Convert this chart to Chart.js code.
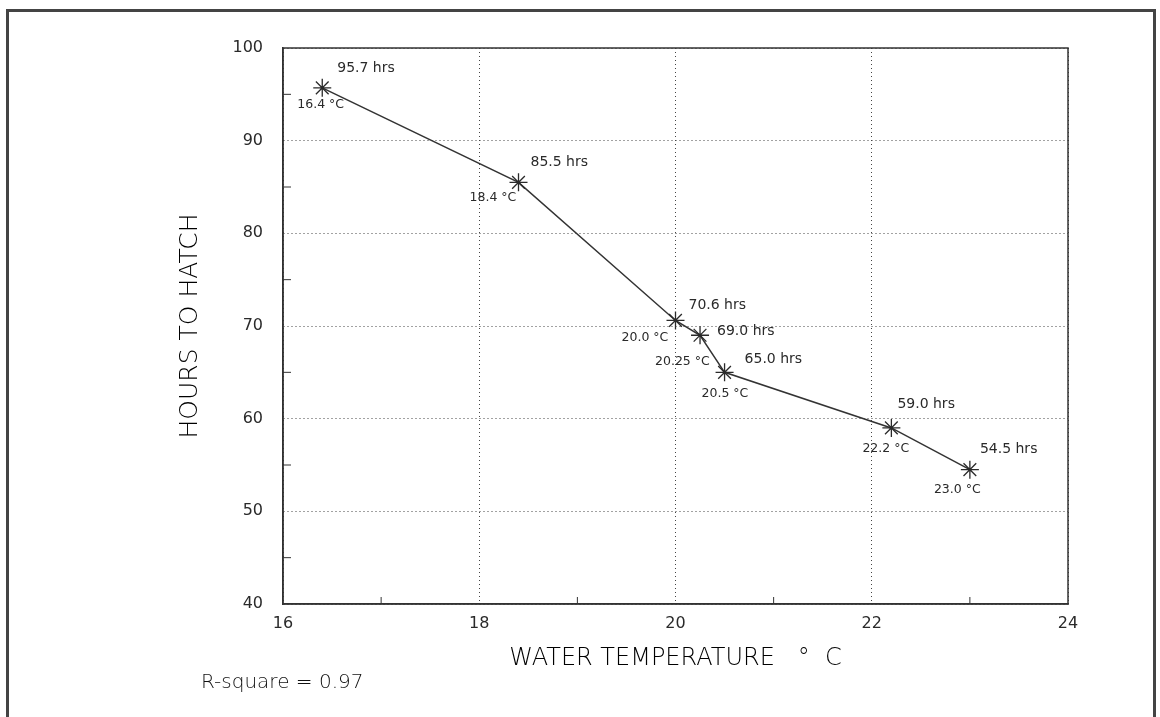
<!DOCTYPE html>
<html>
<head>
<meta charset="utf-8">
<script src="https://cdn.jsdelivr.net/npm/chart.js@4"></script>
<style>
  html, body { margin: 0; padding: 0; background: #fff; }
  #wrap { position: relative; width: 1160px; height: 717px; overflow: hidden; }
  #frame { position: absolute; left: 6px; top: 9px; width: 1150px; height: 740px; border: 3px solid #444; box-sizing: border-box; }
  canvas { position: absolute; left: 0; top: 0; }
</style>
</head>
<body>
<div id="wrap">
  <div id="frame"></div>
  <canvas id="c" width="1160" height="717"></canvas>
</div>
<script>
const temps = [16.4, 18.4, 20.0, 20.25, 20.5, 22.2, 23.0];
const hours = [95.7, 85.5, 70.6, 69.0, 65.0, 59.0, 54.5];
const hourLabels = ['95.7 hrs', '85.5 hrs', '70.6 hrs', '69.0 hrs', '65.0 hrs', '59.0 hrs', '54.5 hrs'];
const tempLabels = ['16.4 °C', '18.4 °C', '20.0 °C', '20.25 °C', '20.5 °C', '22.2 °C', '23.0 °C'];
const xTicks = [16, 18, 20, 22, 24];
const yTicks = [40, 50, 60, 70, 80, 90, 100];
const xMinor = [17, 19, 21, 23];
const yMinor = [45, 55, 65, 75, 85, 95];
const xTitle = 'WATER TEMPERATURE   °  C';
const yTitle = 'HOURS TO HATCH';
const noteText = 'R-square = 0.97';

// label offsets in pixels relative to each point (left edge, middle)
const hrsOffsets = [[15, -19], [12, -20], [13, -15], [17, -4], [20, -13], [6, -24], [10, -20]];
const degOffsets = [[-25, 17], [-49, 15], [-54, 17], [-45, 26], [-23, 21], [-29, 21], [-36, 20]];

const ink = '#2a2a2a';

const decor = {
  id: 'decor',
  afterDatasetsDraw(chart) {
    const {ctx, chartArea: a, scales: {x, y}} = chart;
    ctx.save();
    // plot frame
    ctx.strokeStyle = '#333';
    ctx.lineWidth = 1.5;
    ctx.strokeRect(a.left, a.top, a.right - a.left, a.bottom - a.top);
    // minor ticks
    ctx.lineWidth = 1;
    ctx.beginPath();
    xMinor.forEach(v => { const px = x.getPixelForValue(v); ctx.moveTo(px, a.bottom); ctx.lineTo(px, a.bottom - 7); });
    yMinor.forEach(v => { const py = y.getPixelForValue(v); ctx.moveTo(a.left, py); ctx.lineTo(a.left + 8, py); });
    ctx.stroke();
    // point labels
    ctx.fillStyle = ink;
    ctx.textBaseline = 'middle';
    ctx.textAlign = 'left';
    temps.forEach((t, i) => {
      const px = x.getPixelForValue(t), py = y.getPixelForValue(hours[i]);
      ctx.font = '14px "DejaVu Sans"';
      ctx.fillText(hourLabels[i], px + hrsOffsets[i][0], py + hrsOffsets[i][1]);
      ctx.font = '12.5px "DejaVu Sans"';
      ctx.fillText(tempLabels[i], px + degOffsets[i][0], py + degOffsets[i][1]);
    });
    // note
    ctx.fillStyle = '#111';
    ctx.font = '300 20px "DejaVu Sans"';
    ctx.fillText(noteText, 201, 683);
    ctx.restore();
  }
};

new Chart(document.getElementById('c'), {
  type: 'scatter',
  data: {
    datasets: [{
      data: temps.map((t, i) => ({x: t, y: hours[i]})),
      showLine: true,
      borderColor: '#333',
      borderWidth: 1.5,
      pointStyle: 'star',
      pointRadius: 9,
      pointBorderWidth: 1.3,
      pointBorderColor: ink,
      pointBackgroundColor: ink,
      pointHoverRadius: 9
    }]
  },
  options: {
    responsive: false,
    animation: false,
    devicePixelRatio: 1,
    layout: { padding: { left: 0, top: 48, right: 92, bottom: 0 } },
    plugins: { legend: { display: false }, tooltip: { enabled: false } },
    scales: {
      x: {
        type: 'linear', min: 16, max: 24,
        afterBuildTicks: s => { s.ticks = xTicks.map(v => ({value: v})); },
        afterFit: s => { s.height = 113; },
        ticks: { color: ink, padding: 10, font: { family: 'DejaVu Sans', size: 16 } },
        grid: { color: '#444', lineWidth: 1, drawTicks: false },
        border: { color: '#333', width: 1.5, dash: [1, 3] },
        title: { display: true, text: xTitle, color: '#000', font: { family: 'DejaVu Sans', size: 24, weight: 300 }, padding: { top: 0, bottom: 44 } }
      },
      y: {
        type: 'linear', min: 40, max: 100,
        afterBuildTicks: s => { s.ticks = yTicks.map(v => ({value: v})); },
        afterFit: s => { s.width = 283; },
        ticks: { color: ink, padding: 20, font: { family: 'DejaVu Sans', size: 16 } },
        grid: { color: '#444', lineWidth: 1, drawTicks: false },
        border: { color: '#333', width: 1.5, dash: [1, 3] },
        title: { display: true, text: yTitle, color: '#000', font: { family: 'DejaVu Sans', size: 25, weight: 300 }, padding: { top: 175, bottom: 0 } }
      }
    }
  },
  plugins: [decor]
});
</script>
</body>
</html>
